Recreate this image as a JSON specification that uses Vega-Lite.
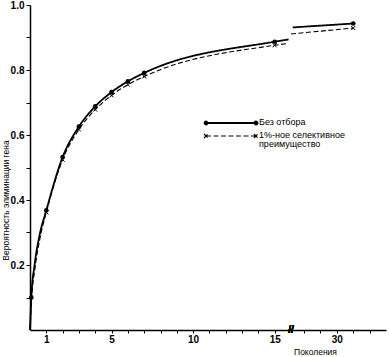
{
  "$schema": "https://vega.github.io/schema/vega-lite/v6.json",
  "width": 356,
  "height": 325,
  "autosize": {"type": "none"},
  "padding": {"left": 30, "top": 5, "right": 3, "bottom": 27},
  "background": "white",
  "config": {
    "view": {"stroke": null},
    "font": "Liberation Sans",
    "axis": {
      "domainColor": "black", "domainWidth": 1.5, "tickColor": "black", "tickWidth": 1,
      "labelColor": "black", "labelFontSize": 10, "labelFontWeight": "bold", "grid": false,
      "titleColor": "black", "titleFontSize": 8.5, "titleFontWeight": "normal"
    }
  },
  "data": {
    "values": [
      {"серия": "Без отбора", "поколение": 0, "p": 0.0, "участок": 1, "точка": false},
      {"серия": "Без отбора", "поколение": 0.08, "p": 0.1, "участок": 1, "точка": true},
      {"серия": "Без отбора", "поколение": 0.28, "p": 0.2, "участок": 1, "точка": false},
      {"серия": "Без отбора", "поколение": 0.58, "p": 0.29, "участок": 1, "точка": false},
      {"серия": "Без отбора", "поколение": 1, "p": 0.368, "участок": 1, "точка": true},
      {"серия": "Без отбора", "поколение": 2, "p": 0.532, "участок": 1, "точка": true},
      {"серия": "Без отбора", "поколение": 3, "p": 0.626, "участок": 1, "точка": true},
      {"серия": "Без отбора", "поколение": 4, "p": 0.688, "участок": 1, "точка": true},
      {"серия": "Без отбора", "поколение": 5, "p": 0.732, "участок": 1, "точка": true},
      {"серия": "Без отбора", "поколение": 6, "p": 0.765, "участок": 1, "точка": true},
      {"серия": "Без отбора", "поколение": 7, "p": 0.791, "участок": 1, "точка": true},
      {"серия": "Без отбора", "поколение": 15, "p": 0.887, "участок": 1, "точка": true},
      {"серия": "Без отбора", "поколение": 15.85, "p": 0.894, "участок": 1, "точка": false},
      {"серия": "Без отбора", "поколение": 27.3, "p": 0.931, "участок": 2, "точка": false},
      {"серия": "Без отбора", "поколение": 31, "p": 0.943, "участок": 2, "точка": true},
      {"серия": "1%-ное селективное преимущество", "поколение": 0, "p": 0.0, "участок": 1, "точка": false},
      {"серия": "1%-ное селективное преимущество", "поколение": 0.1, "p": 0.095, "участок": 1, "точка": false},
      {"серия": "1%-ное селективное преимущество", "поколение": 0.32, "p": 0.195, "участок": 1, "точка": false},
      {"серия": "1%-ное селективное преимущество", "поколение": 0.62, "p": 0.284, "участок": 1, "точка": false},
      {"серия": "1%-ное селективное преимущество", "поколение": 1, "p": 0.362, "участок": 1, "точка": true},
      {"серия": "1%-ное селективное преимущество", "поколение": 2, "p": 0.524, "участок": 1, "точка": true},
      {"серия": "1%-ное селективное преимущество", "поколение": 3, "p": 0.617, "участок": 1, "точка": true},
      {"серия": "1%-ное селективное преимущество", "поколение": 4, "p": 0.678, "участок": 1, "точка": true},
      {"серия": "1%-ное селективное преимущество", "поколение": 5, "p": 0.722, "участок": 1, "точка": true},
      {"серия": "1%-ное селективное преимущество", "поколение": 6, "p": 0.755, "участок": 1, "точка": true},
      {"серия": "1%-ное селективное преимущество", "поколение": 7, "p": 0.780, "участок": 1, "точка": true},
      {"серия": "1%-ное селективное преимущество", "поколение": 15, "p": 0.876, "участок": 1, "точка": true},
      {"серия": "1%-ное селективное преимущество", "поколение": 15.85, "p": 0.882, "участок": 1, "точка": false},
      {"серия": "1%-ное селективное преимущество", "поколение": 27.2, "p": 0.911, "участок": 2, "точка": false},
      {"серия": "1%-ное селективное преимущество", "поколение": 31, "p": 0.929, "участок": 2, "точка": true}
    ]
  },
  "encoding": {
    "x": {
      "field": "поколение", "type": "quantitative",
      "scale": {"domain": [0, 16, 27.2, 33.0], "range": [0, 261, 261, 356], "zero": false, "nice": false},
      "axis": {
        "title": "Поколения",
        "values": [1,2,3,4,5,6,7,8,9,10,11,12,13,14,15,28,29,30,31,32],
        "labelExpr": "(datum.value == 1 || datum.value == 5 || datum.value == 10 || datum.value == 15 || datum.value == 30) ? datum.label : ''",
        "tickSize": 3, "labelPadding": 1, "labelFontSize": 10,
        "titleX": 285, "titleY": 21, "titleAlign": "center", "titleBaseline": "middle"
      }
    },
    "y": {
      "field": "p", "type": "quantitative",
      "scale": {"domain": [0, 1], "nice": false},
      "axis": {
        "title": "Вероятность элиминации гена",
        "values": [0.1,0.2,0.3,0.4,0.5,0.6,0.7,0.8,0.9,1.0],
        "format": ".1f",
        "labelExpr": "round(datum.value*10) % 2 == 0 ? datum.label : ''",
        "tickSize": 4, "labelPadding": 2,
        "titleX": -25, "titleY": 195, "titleAlign": "center", "titleBaseline": "middle", "titleAngle": 270
      }
    }
  },
  "layer": [
    {
      "mark": {"type": "line", "interpolate": "monotone", "color": "black"},
      "encoding": {
        "detail": {"field": "участок", "type": "nominal"},
        "strokeDash": {
          "field": "серия", "type": "nominal",
          "scale": {"domain": ["Без отбора", "1%-ное селективное преимущество"], "range": [[1, 0], [5, 2.5]]},
          "legend": {
            "title": null, "orient": "none", "legendX": 195, "legendY": 112,
            "padding": 0, "symbolSize": 100, "symbolStrokeWidth": 1.1, "symbolStrokeColor": "black",
            "symbolFillColor": "black", "labelFontSize": 9, "labelFont": "Liberation Sans", "labelColor": "black",
            "labelOffset": 22, "rowPadding": 1, "labelBaseline": "top",
            "labelExpr": "datum.label == 'Без отбора' ? datum.label : ['1%-ное селективное', ' преимущество']",
            "encode": {
              "symbols": {"update": {"shape": {"signal": "datum.value == 'Без отбора' ? 'M-5,0L5,0M-5.3,0a0.3,0.3 0 1,0 0.6,0a0.3,0.3 0 1,0 -0.6,0M4.7,0a0.3,0.3 0 1,0 0.6,0a0.3,0.3 0 1,0 -0.6,0' : 'M-5,0L5,0M-5.4,-0.4L-4.6,0.4M-5.4,0.4L-4.6,-0.4M4.6,-0.4L5.4,0.4M4.6,0.4L5.4,-0.4'"}}},
              "labels": {"update": {"dy": {"value": -5}, "lineHeight": {"value": 9}}}
            }
          }
        },
        "strokeWidth": {
          "field": "серия", "type": "nominal",
          "scale": {"domain": ["Без отбора", "1%-ное селективное преимущество"], "range": [1.8, 1.1]},
          "legend": null
        }
      }
    },
    {
      "transform": [{"filter": "datum['точка'] && datum['серия'] == 'Без отбора'"}],
      "mark": {"type": "point", "shape": "circle", "filled": true, "color": "black", "size": 22, "opacity": 1}
    },
    {
      "transform": [{"filter": "datum['точка'] && datum['серия'] != 'Без отбора'"}],
      "mark": {"type": "point", "shape": "M-1,-1L1,1M-1,1L1,-1", "filled": false, "color": "black", "size": 16, "strokeWidth": 1, "opacity": 1}
    },
    {
      "mark": {"type": "text", "text": "//", "fontSize": 10, "fontWeight": "normal", "color": "black"},
      "encoding": {"x": {"datum": 16}, "y": {"datum": 0}}
    }
  ]
}
